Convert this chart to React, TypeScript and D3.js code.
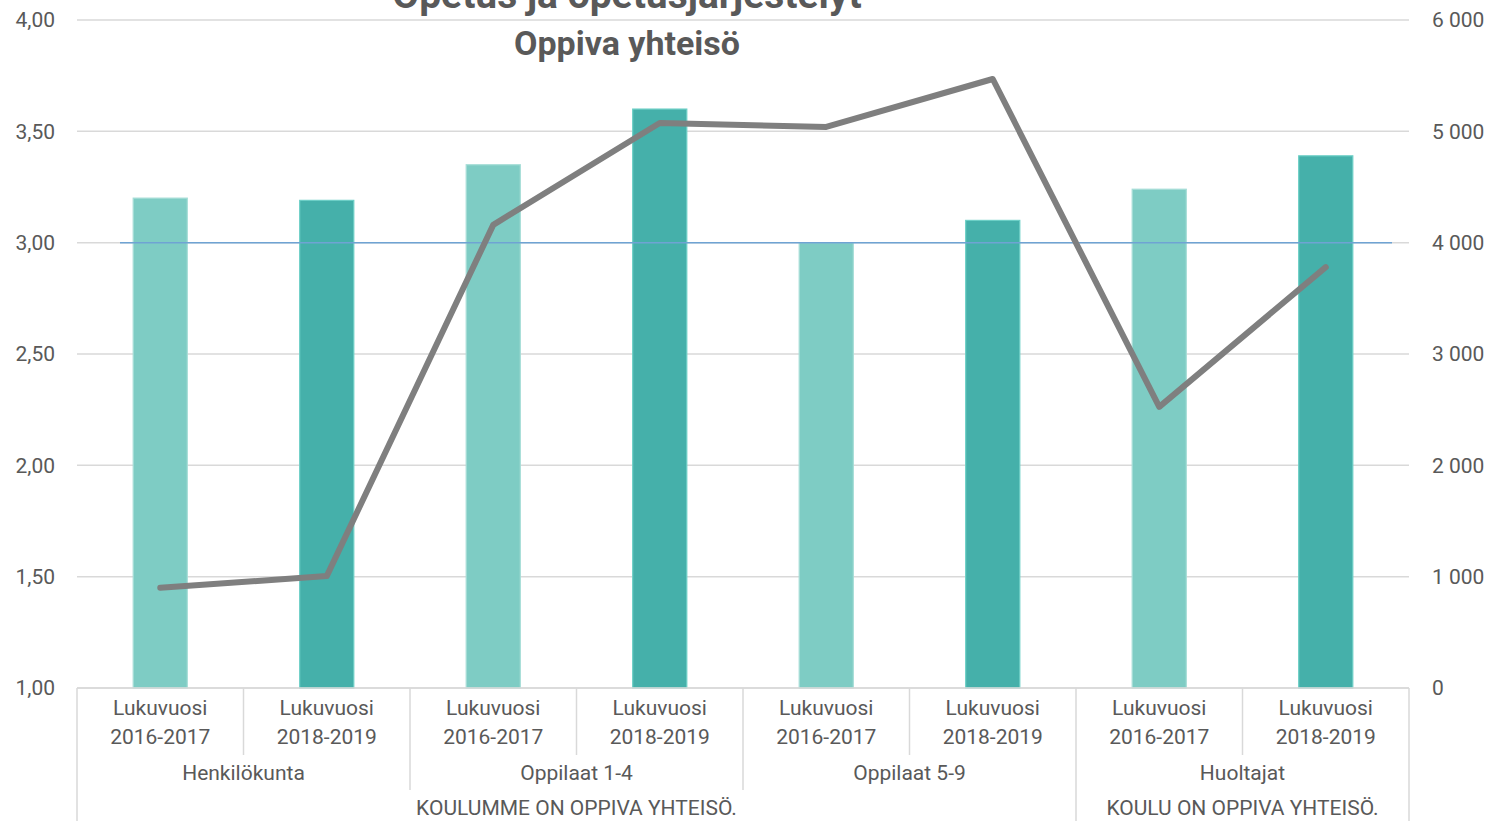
import React from "react";
import * as d3 from "d3";

const groups = ["Henkilökunta", "Oppilaat 1-4", "Oppilaat 5-9", "Huoltajat"];
const topGroups = [
  { label: "KOULUMME ON OPPIVA YHTEISÖ.", span: 3 },
  { label: "KOULU ON OPPIVA YHTEISÖ.", span: 1 },
];
const years = ["2016-2017", "2018-2019"];
const barValues = [3.2, 3.19, 3.35, 3.6, 3.0, 3.1, 3.24, 3.39];
const lineValues = [900, 1005, 4160, 5075, 5040, 5470, 2525, 3780];
const refValue = 3.0;
const leftTicks = [1, 1.5, 2, 2.5, 3, 3.5, 4];
const rightTicks = [0, 1000, 2000, 3000, 4000, 5000, 6000];

const W = 1490, H = 821;
const plotL = 77, plotR = 1409, plotT = 20, plotB = 688;
const FONT = "Roboto, 'Open Sans', sans-serif";
const TXT = "#595959";
const FS = 21;

const cats = groups.flatMap((g, gi) => years.map((y, yi) => `${gi}-${yi}`));

export default function App() {
  const x = d3.scaleBand<string>().domain(cats).range([plotL, plotR]).paddingInner(0).paddingOuter(0);
  const yL = d3.scaleLinear().domain([1, 4]).range([plotB, plotT]);
  const yR = d3.scaleLinear().domain([0, 6000]).range([plotB, plotT]);
  const bw = x.bandwidth();
  const barW = bw * 0.325;
  const fmtL = (v: number) => v.toFixed(2).replace(".", ",");
  const fmtR = (v: number) => (v >= 1000 ? `${Math.floor(v / 1000)} ${String(v % 1000).padStart(3, "0")}` : String(v));
  const line = d3
    .line<number>()
    .x((_, i) => (x(cats[i]) as number) + bw / 2)
    .y((d) => yR(d));

  const lightFill = "#7ECCC4", darkFill = "#45B0AA";
  const lightStroke = "#A6DDD7", darkStroke = "#6CCFC6";

  const dividers: { x: number; y2: number }[] = [];
  for (let i = 0; i <= cats.length; i++) {
    const xx = plotL + i * bw;
    let y2 = 755;
    if (i % 2 === 0) y2 = 790;
    if (i === 0 || i === cats.length || i === 6) y2 = H;
    dividers.push({ x: xx, y2 });
  }
  let acc = 0;
  const tops = topGroups.map((t) => {
    const s = acc;
    acc += t.span;
    return { label: t.label, cx: plotL + (s + t.span / 2) * 2 * bw };
  });

  return (
    <svg width={W} height={H} style={{ position: "absolute", left: 0, top: 0, background: "#fff" }} fontFamily={FONT}>
      <rect width={W} height={H} fill="#fff" />
      {leftTicks.map((t) => (
        <line key={t} x1={plotL} x2={plotR} y1={yL(t)} y2={yL(t)} stroke="#D9D9D9" strokeWidth={1.5} />
      ))}
      {barValues.map((v, i) => {
        const cx = (x(cats[i]) as number) + bw / 2;
        const dark = i % 2 === 1;
        return (
          <rect
            key={i}
            x={cx - barW / 2}
            y={yL(v)}
            width={barW}
            height={plotB - yL(v)}
            fill={dark ? darkFill : lightFill}
            stroke={dark ? darkStroke : lightStroke}
            strokeWidth={1.2}
          />
        );
      })}
      <line x1={120} x2={1392} y1={yL(refValue)} y2={yL(refValue)} stroke="#6FA3D3" strokeWidth={1.5} />
      <path d={line(lineValues) || ""} fill="none" stroke="#7F7F7F" strokeWidth={6} strokeLinejoin="round" strokeLinecap="round" />
      <line x1={plotL} x2={plotR} y1={plotB} y2={plotB} stroke="#D9D9D9" strokeWidth={1.5} />
      {dividers.map((d, i) => (
        <line key={i} x1={d.x} x2={d.x} y1={plotB} y2={d.y2} stroke="#D9D9D9" strokeWidth={1.5} />
      ))}
      {leftTicks.map((t) => (
        <text key={t} x={55} y={yL(t)} dy="0.35em" textAnchor="end" fontSize={FS} fill={TXT}>
          {fmtL(t)}
        </text>
      ))}
      {rightTicks.map((t) => (
        <text key={t} x={1432} y={yR(t)} dy="0.35em" textAnchor="start" fontSize={FS} fill={TXT}>
          {fmtR(t)}
        </text>
      ))}
      {cats.map((c, i) => {
        const cx = (x(c) as number) + bw / 2;
        return (
          <g key={c}>
            <text x={cx} y={708} dy="0.35em" textAnchor="middle" fontSize={FS} fill={TXT}>
              Lukuvuosi
            </text>
            <text x={cx} y={737} dy="0.35em" textAnchor="middle" fontSize={FS} fill={TXT}>
              {years[i % 2]}
            </text>
          </g>
        );
      })}
      {groups.map((g, gi) => (
        <text key={g} x={plotL + (gi + 0.5) * 2 * bw} y={773} dy="0.35em" textAnchor="middle" fontSize={FS} fill={TXT}>
          {g}
        </text>
      ))}
      {tops.map((t) => (
        <text key={t.label} x={t.cx} y={808} dy="0.35em" textAnchor="middle" fontSize={FS} fill={TXT}>
          {t.label}
        </text>
      ))}
      <text x={627} y={8} textAnchor="middle" fontSize={39} fontWeight="bold" fill={TXT}>
        Opetus ja opetusjärjestelyt
      </text>
      <text x={627} y={55} textAnchor="middle" fontSize={34} fontWeight="bold" fill={TXT}>
        Oppiva yhteisö
      </text>
    </svg>
  );
}
